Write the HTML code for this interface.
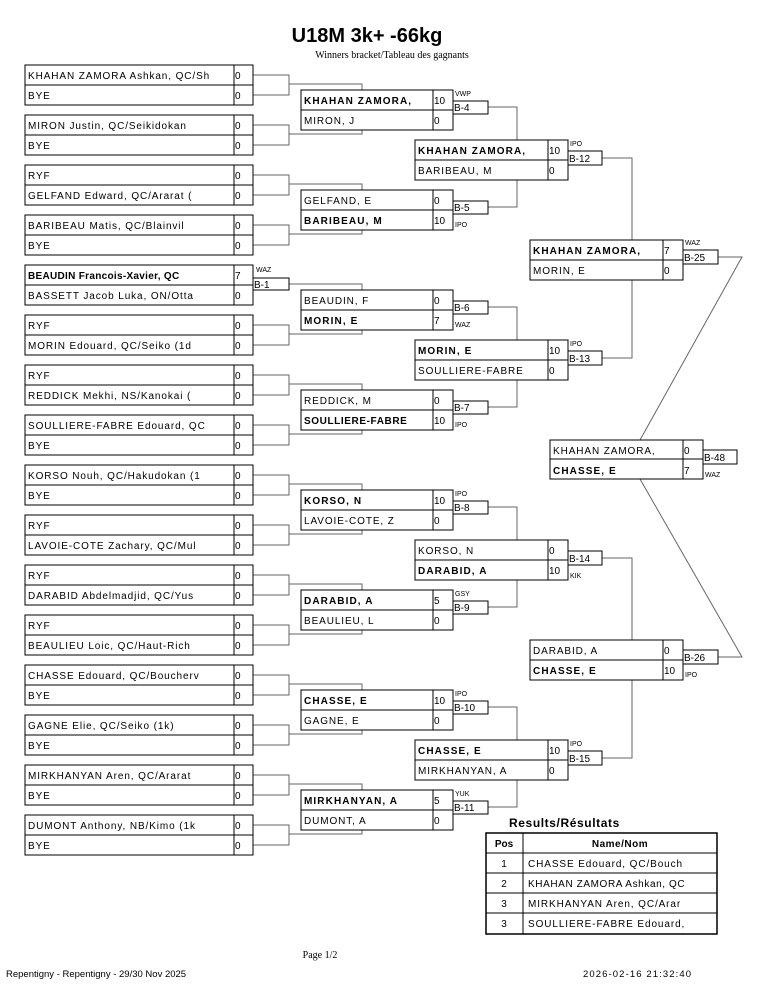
<!DOCTYPE html>
<html><head><meta charset="utf-8"><style>
html,body{margin:0;padding:0;background:#fff}
svg{display:block}
text{font-family:"Liberation Sans",sans-serif;font-size:10px;fill:#000}
.n{letter-spacing:0.9px}
.b{font-weight:bold;letter-spacing:1.1px}
.s{font-size:7px;letter-spacing:0}
.c{fill:none;stroke:#666;stroke-width:1}
.bx{fill:#fff;stroke:#000;stroke-width:1}
.ln{stroke:#000;stroke-width:1}
.sf{font-family:"Liberation Serif",serif}
</style></head><body>
<svg width="765" height="990" viewBox="0 0 765 990" xmlns="http://www.w3.org/2000/svg">
<text x="367" y="42" text-anchor="middle" style="font-size:20px;font-weight:bold">U18M 3k+ -66kg</text>
<text x="392" y="58" text-anchor="middle" class="sf" style="font-size:10px">Winners bracket/Tableau des gagnants</text>

<g class="c">
<path d="M253 75H289V95H253M289 84H362V134H289"/>
<path d="M253 125H289V145H253M289 134H362"/>
<path d="M253 175H289V195H253M289 184H362V234H289"/>
<path d="M253 225H289V245H253M289 234H362"/>
<path d="M289 284H362V334H289"/>
<path d="M253 325H289V345H253M289 334H362"/>
<path d="M253 375H289V395H253M289 384H362V434H289"/>
<path d="M253 425H289V445H253M289 434H362"/>
<path d="M253 475H289V495H253M289 484H362V534H289"/>
<path d="M253 525H289V545H253M289 534H362"/>
<path d="M253 575H289V595H253M289 584H362V634H289"/>
<path d="M253 625H289V645H253M289 634H362"/>
<path d="M253 675H289V695H253M289 684H362V734H289"/>
<path d="M253 725H289V745H253M289 734H362"/>
<path d="M253 775H289V795H253M289 784H362V834H289"/>
<path d="M253 825H289V845H253M289 834H362"/>
<path d="M488 107H517V207H488"/>
<path d="M488 307H517V407H488"/>
<path d="M488 507H517V607H488"/>
<path d="M488 707H517V807H488"/>
<path d="M602 158H632V358H602"/>
<path d="M602 558H632V758H602"/>
<path d="M718 257H742L640 440"/>
<path d="M718 657H742L640 479"/>
</g>

<g>
<rect class="bx" x="25" y="65" width="228" height="40"/><line class="ln" x1="25" y1="85" x2="253" y2="85"/><line class="ln" x1="234" y1="65" x2="234" y2="105"/>
<text class="n" x="28" y="79">KHAHAN ZAMORA Ashkan, QC/Sh</text><text x="235" y="79">0</text><text class="n" x="28" y="99">BYE</text><text x="235" y="99">0</text>

<rect class="bx" x="25" y="115" width="228" height="40"/><line class="ln" x1="25" y1="135" x2="253" y2="135"/><line class="ln" x1="234" y1="115" x2="234" y2="155"/>
<text class="n" x="28" y="129">MIRON Justin, QC/Seikidokan</text><text x="235" y="129">0</text><text class="n" x="28" y="149">BYE</text><text x="235" y="149">0</text>

<rect class="bx" x="25" y="165" width="228" height="40"/><line class="ln" x1="25" y1="185" x2="253" y2="185"/><line class="ln" x1="234" y1="165" x2="234" y2="205"/>
<text class="n" x="28" y="179">RYF</text><text x="235" y="179">0</text><text class="n" x="28" y="199">GELFAND Edward, QC/Ararat (</text><text x="235" y="199">0</text>

<rect class="bx" x="25" y="215" width="228" height="40"/><line class="ln" x1="25" y1="235" x2="253" y2="235"/><line class="ln" x1="234" y1="215" x2="234" y2="255"/>
<text class="n" x="28" y="229">BARIBEAU Matis, QC/Blainvil</text><text x="235" y="229">0</text><text class="n" x="28" y="249">BYE</text><text x="235" y="249">0</text>

<rect class="bx" x="25" y="265" width="228" height="40"/><line class="ln" x1="25" y1="285" x2="253" y2="285"/><line class="ln" x1="234" y1="265" x2="234" y2="305"/>
<text class="b" x="28" y="279" style="letter-spacing:0.3px">BEAUDIN Francois-Xavier, QC</text><text x="235" y="279">7</text><text class="n" x="28" y="299">BASSETT Jacob Luka, ON/Otta</text><text x="235" y="299">0</text>
<rect class="bx" x="253" y="278" width="36" height="12"/><text x="254" y="288">B-1</text><text class="s" x="256" y="272">WAZ</text>

<rect class="bx" x="25" y="315" width="228" height="40"/><line class="ln" x1="25" y1="335" x2="253" y2="335"/><line class="ln" x1="234" y1="315" x2="234" y2="355"/>
<text class="n" x="28" y="329">RYF</text><text x="235" y="329">0</text><text class="n" x="28" y="349">MORIN Edouard, QC/Seiko (1d</text><text x="235" y="349">0</text>

<rect class="bx" x="25" y="365" width="228" height="40"/><line class="ln" x1="25" y1="385" x2="253" y2="385"/><line class="ln" x1="234" y1="365" x2="234" y2="405"/>
<text class="n" x="28" y="379">RYF</text><text x="235" y="379">0</text><text class="n" x="28" y="399">REDDICK Mekhi, NS/Kanokai (</text><text x="235" y="399">0</text>

<rect class="bx" x="25" y="415" width="228" height="40"/><line class="ln" x1="25" y1="435" x2="253" y2="435"/><line class="ln" x1="234" y1="415" x2="234" y2="455"/>
<text class="n" x="28" y="429">SOULLIERE-FABRE Edouard, QC</text><text x="235" y="429">0</text><text class="n" x="28" y="449">BYE</text><text x="235" y="449">0</text>

<rect class="bx" x="25" y="465" width="228" height="40"/><line class="ln" x1="25" y1="485" x2="253" y2="485"/><line class="ln" x1="234" y1="465" x2="234" y2="505"/>
<text class="n" x="28" y="479">KORSO Nouh, QC/Hakudokan (1</text><text x="235" y="479">0</text><text class="n" x="28" y="499">BYE</text><text x="235" y="499">0</text>

<rect class="bx" x="25" y="515" width="228" height="40"/><line class="ln" x1="25" y1="535" x2="253" y2="535"/><line class="ln" x1="234" y1="515" x2="234" y2="555"/>
<text class="n" x="28" y="529">RYF</text><text x="235" y="529">0</text><text class="n" x="28" y="549">LAVOIE-COTE Zachary, QC/Mul</text><text x="235" y="549">0</text>

<rect class="bx" x="25" y="565" width="228" height="40"/><line class="ln" x1="25" y1="585" x2="253" y2="585"/><line class="ln" x1="234" y1="565" x2="234" y2="605"/>
<text class="n" x="28" y="579">RYF</text><text x="235" y="579">0</text><text class="n" x="28" y="599">DARABID Abdelmadjid, QC/Yus</text><text x="235" y="599">0</text>

<rect class="bx" x="25" y="615" width="228" height="40"/><line class="ln" x1="25" y1="635" x2="253" y2="635"/><line class="ln" x1="234" y1="615" x2="234" y2="655"/>
<text class="n" x="28" y="629">RYF</text><text x="235" y="629">0</text><text class="n" x="28" y="649">BEAULIEU Loic, QC/Haut-Rich</text><text x="235" y="649">0</text>

<rect class="bx" x="25" y="665" width="228" height="40"/><line class="ln" x1="25" y1="685" x2="253" y2="685"/><line class="ln" x1="234" y1="665" x2="234" y2="705"/>
<text class="n" x="28" y="679">CHASSE Edouard, QC/Boucherv</text><text x="235" y="679">0</text><text class="n" x="28" y="699">BYE</text><text x="235" y="699">0</text>

<rect class="bx" x="25" y="715" width="228" height="40"/><line class="ln" x1="25" y1="735" x2="253" y2="735"/><line class="ln" x1="234" y1="715" x2="234" y2="755"/>
<text class="n" x="28" y="729">GAGNE Elie, QC/Seiko (1k)</text><text x="235" y="729">0</text><text class="n" x="28" y="749">BYE</text><text x="235" y="749">0</text>

<rect class="bx" x="25" y="765" width="228" height="40"/><line class="ln" x1="25" y1="785" x2="253" y2="785"/><line class="ln" x1="234" y1="765" x2="234" y2="805"/>
<text class="n" x="28" y="779">MIRKHANYAN Aren, QC/Ararat</text><text x="235" y="779">0</text><text class="n" x="28" y="799">BYE</text><text x="235" y="799">0</text>

<rect class="bx" x="25" y="815" width="228" height="40"/><line class="ln" x1="25" y1="835" x2="253" y2="835"/><line class="ln" x1="234" y1="815" x2="234" y2="855"/>
<text class="n" x="28" y="829">DUMONT Anthony, NB/Kimo (1k</text><text x="235" y="829">0</text><text class="n" x="28" y="849">BYE</text><text x="235" y="849">0</text>
</g>

<g>
<rect class="bx" x="301" y="90" width="152" height="40"/><line class="ln" x1="301" y1="110" x2="453" y2="110"/><line class="ln" x1="433" y1="90" x2="433" y2="130"/>
<text class="b" x="304" y="104">KHAHAN ZAMORA,</text><text x="434" y="104">10</text><text class="n" x="304" y="124">MIRON, J</text><text x="434" y="124">0</text>
<rect class="bx" x="453" y="101" width="35" height="13"/><text x="454" y="111">B-4</text><text class="s" x="455" y="96">VWP</text>

<rect class="bx" x="301" y="190" width="152" height="40"/><line class="ln" x1="301" y1="210" x2="453" y2="210"/><line class="ln" x1="433" y1="190" x2="433" y2="230"/>
<text class="n" x="304" y="204">GELFAND, E</text><text x="434" y="204">0</text><text class="b" x="304" y="224">BARIBEAU, M</text><text x="434" y="224">10</text>
<rect class="bx" x="453" y="201" width="35" height="13"/><text x="454" y="211">B-5</text><text class="s" x="455" y="227">IPO</text>

<rect class="bx" x="301" y="290" width="152" height="40"/><line class="ln" x1="301" y1="310" x2="453" y2="310"/><line class="ln" x1="433" y1="290" x2="433" y2="330"/>
<text class="n" x="304" y="304">BEAUDIN, F</text><text x="434" y="304">0</text><text class="b" x="304" y="324">MORIN, E</text><text x="434" y="324">7</text>
<rect class="bx" x="453" y="301" width="35" height="13"/><text x="454" y="311">B-6</text><text class="s" x="455" y="327">WAZ</text>

<rect class="bx" x="301" y="390" width="152" height="40"/><line class="ln" x1="301" y1="410" x2="453" y2="410"/><line class="ln" x1="433" y1="390" x2="433" y2="430"/>
<text class="n" x="304" y="404">REDDICK, M</text><text x="434" y="404">0</text><text class="b" x="304" y="424" style="letter-spacing:0.6px">SOULLIERE-FABRE</text><text x="434" y="424">10</text>
<rect class="bx" x="453" y="401" width="35" height="13"/><text x="454" y="411">B-7</text><text class="s" x="455" y="427">IPO</text>

<rect class="bx" x="301" y="490" width="152" height="40"/><line class="ln" x1="301" y1="510" x2="453" y2="510"/><line class="ln" x1="433" y1="490" x2="433" y2="530"/>
<text class="b" x="304" y="504">KORSO, N</text><text x="434" y="504">10</text><text class="n" x="304" y="524">LAVOIE-COTE, Z</text><text x="434" y="524">0</text>
<rect class="bx" x="453" y="501" width="35" height="13"/><text x="454" y="511">B-8</text><text class="s" x="455" y="496">IPO</text>

<rect class="bx" x="301" y="590" width="152" height="40"/><line class="ln" x1="301" y1="610" x2="453" y2="610"/><line class="ln" x1="433" y1="590" x2="433" y2="630"/>
<text class="b" x="304" y="604">DARABID, A</text><text x="434" y="604">5</text><text class="n" x="304" y="624">BEAULIEU, L</text><text x="434" y="624">0</text>
<rect class="bx" x="453" y="601" width="35" height="13"/><text x="454" y="611">B-9</text><text class="s" x="455" y="596">GSY</text>

<rect class="bx" x="301" y="690" width="152" height="40"/><line class="ln" x1="301" y1="710" x2="453" y2="710"/><line class="ln" x1="433" y1="690" x2="433" y2="730"/>
<text class="b" x="304" y="704">CHASSE, E</text><text x="434" y="704">10</text><text class="n" x="304" y="724">GAGNE, E</text><text x="434" y="724">0</text>
<rect class="bx" x="453" y="701" width="35" height="13"/><text x="454" y="711">B-10</text><text class="s" x="455" y="696">IPO</text>

<rect class="bx" x="301" y="790" width="152" height="40"/><line class="ln" x1="301" y1="810" x2="453" y2="810"/><line class="ln" x1="433" y1="790" x2="433" y2="830"/>
<text class="b" x="304" y="804">MIRKHANYAN, A</text><text x="434" y="804">5</text><text class="n" x="304" y="824">DUMONT, A</text><text x="434" y="824">0</text>
<rect class="bx" x="453" y="801" width="35" height="13"/><text x="454" y="811">B-11</text><text class="s" x="455" y="796">YUK</text>
</g>

<g>
<rect class="bx" x="415" y="140" width="153" height="40"/><line class="ln" x1="415" y1="160" x2="568" y2="160"/><line class="ln" x1="548" y1="140" x2="548" y2="180"/>
<text class="b" x="418" y="154">KHAHAN ZAMORA,</text><text x="549" y="154">10</text><text class="n" x="418" y="174">BARIBEAU, M</text><text x="549" y="174">0</text>
<rect class="bx" x="568" y="151" width="34" height="14"/><text x="569" y="162">B-12</text><text class="s" x="570" y="146">IPO</text>

<rect class="bx" x="415" y="340" width="153" height="40"/><line class="ln" x1="415" y1="360" x2="568" y2="360"/><line class="ln" x1="548" y1="340" x2="548" y2="380"/>
<text class="b" x="418" y="354">MORIN, E</text><text x="549" y="354">10</text><text class="n" x="418" y="374">SOULLIERE-FABRE</text><text x="549" y="374">0</text>
<rect class="bx" x="568" y="351" width="34" height="14"/><text x="569" y="362">B-13</text><text class="s" x="570" y="346">IPO</text>

<rect class="bx" x="415" y="540" width="153" height="40"/><line class="ln" x1="415" y1="560" x2="568" y2="560"/><line class="ln" x1="548" y1="540" x2="548" y2="580"/>
<text class="n" x="418" y="554">KORSO, N</text><text x="549" y="554">0</text><text class="b" x="418" y="574">DARABID, A</text><text x="549" y="574">10</text>
<rect class="bx" x="568" y="551" width="34" height="14"/><text x="569" y="562">B-14</text><text class="s" x="570" y="578">KIK</text>

<rect class="bx" x="415" y="740" width="153" height="40"/><line class="ln" x1="415" y1="760" x2="568" y2="760"/><line class="ln" x1="548" y1="740" x2="548" y2="780"/>
<text class="b" x="418" y="754">CHASSE, E</text><text x="549" y="754">10</text><text class="n" x="418" y="774">MIRKHANYAN, A</text><text x="549" y="774">0</text>
<rect class="bx" x="568" y="751" width="34" height="14"/><text x="569" y="762">B-15</text><text class="s" x="570" y="746">IPO</text>
</g>

<g>
<rect class="bx" x="530" y="240" width="153" height="40"/><line class="ln" x1="530" y1="260" x2="683" y2="260"/><line class="ln" x1="663" y1="240" x2="663" y2="280"/>
<text class="b" x="533" y="254">KHAHAN ZAMORA,</text><text x="664" y="254">7</text><text class="n" x="533" y="274">MORIN, E</text><text x="664" y="274">0</text>
<rect class="bx" x="683" y="250" width="35" height="14"/><text x="684" y="261">B-25</text><text class="s" x="685" y="245">WAZ</text>

<rect class="bx" x="530" y="640" width="153" height="40"/><line class="ln" x1="530" y1="660" x2="683" y2="660"/><line class="ln" x1="663" y1="640" x2="663" y2="680"/>
<text class="n" x="533" y="654">DARABID, A</text><text x="664" y="654">0</text><text class="b" x="533" y="674">CHASSE, E</text><text x="664" y="674">10</text>
<rect class="bx" x="683" y="650" width="35" height="14"/><text x="684" y="661">B-26</text><text class="s" x="685" y="677">IPO</text>
</g>

<g>
<rect class="bx" x="550" y="440" width="153" height="39"/><line class="ln" x1="550" y1="459" x2="703" y2="459"/><line class="ln" x1="683" y1="440" x2="683" y2="479"/>
<text class="n" x="553" y="454">KHAHAN ZAMORA,</text><text x="684" y="454">0</text><text class="b" x="553" y="474">CHASSE, E</text><text x="684" y="474">7</text>
<rect class="bx" x="703" y="450" width="34" height="14"/><text x="704" y="461">B-48</text><text class="s" x="705" y="477">WAZ</text>
</g>

<text x="509" y="827" style="font-size:12px;font-weight:bold;letter-spacing:0.6px">Results/Résultats</text>
<g>
<rect x="486" y="833" width="231" height="101" fill="#fff" stroke="#000" stroke-width="1.5"/>
<line class="ln" x1="486" y1="853" x2="717" y2="853"/>
<line class="ln" x1="486" y1="873" x2="717" y2="873"/>
<line class="ln" x1="486" y1="893" x2="717" y2="893"/>
<line class="ln" x1="486" y1="913" x2="717" y2="913"/>
<line class="ln" x1="523" y1="833" x2="523" y2="934"/>
<text x="504" y="847" text-anchor="middle" style="font-weight:bold">Pos</text>
<text x="620" y="847" text-anchor="middle" style="font-weight:bold;letter-spacing:0.5px">Name/Nom</text>
<text x="504" y="867" text-anchor="middle">1</text><text class="n" x="528" y="867">CHASSE Edouard, QC/Bouch</text>
<text x="504" y="887" text-anchor="middle">2</text><text class="n" x="528" y="887" style="letter-spacing:0.6px">KHAHAN ZAMORA Ashkan, QC</text>
<text x="504" y="907" text-anchor="middle">3</text><text class="n" x="528" y="907">MIRKHANYAN Aren, QC/Arar</text>
<text x="504" y="927" text-anchor="middle">3</text><text class="n" x="528" y="927">SOULLIERE-FABRE Edouard,</text>
</g>

<text x="320" y="958" text-anchor="middle" class="sf">Page 1/2</text>
<text x="6" y="977" style="font-size:9.5px">Repentigny - Repentigny - 29/30 Nov 2025</text>
<text x="583" y="977" style="font-size:9.5px;letter-spacing:1.1px">2026-02-16 21:32:40</text>
</svg>
</body></html>
